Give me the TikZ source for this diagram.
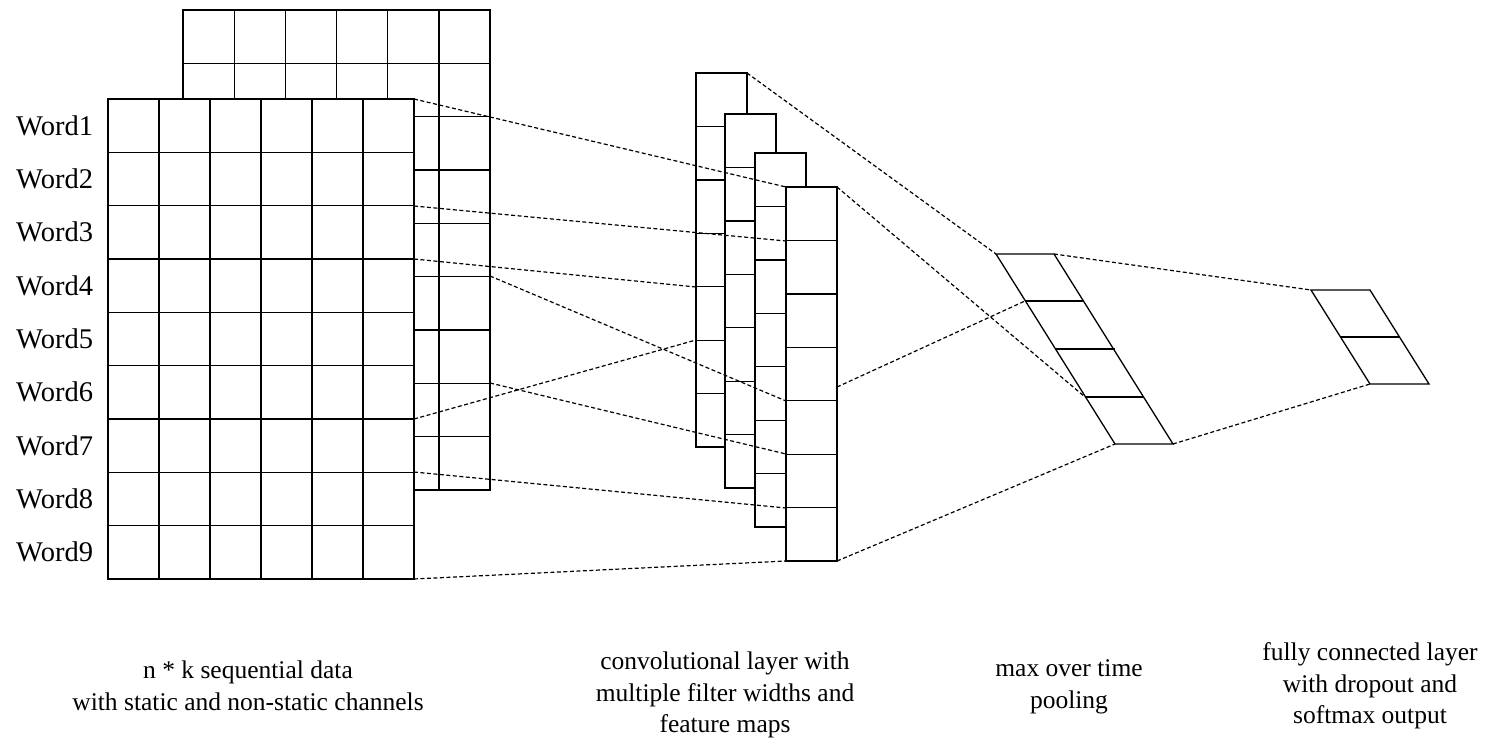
\documentclass[tikz,border=0pt]{standalone}
\usepackage{fontspec}
\setmainfont{Liberation Serif}
\begin{document}
\begin{tikzpicture}[x=1pt,y=-1pt,
  grid/.style={line width=1.3pt,fill=white},
  conn/.style={line width=1.2pt,dash pattern=on 4pt off 2.5pt},
  word/.style={anchor=west,font=\fontsize{28.5}{30}\selectfont,inner sep=0pt},
  lab/.style={align=center,font=\fontsize{25.5}{31.5}\selectfont,inner sep=0pt}]
\useasboundingbox (0,0) rectangle (1492,747);
% back input grid (static channel)
\filldraw[grid] (183,10) rectangle (490,490);
\foreach \i in {1,...,5} \draw[line width=1.3pt] ({183+51.2*\i},10) -- ({183+51.2*\i},490);
\foreach \j in {1,...,8} \draw[line width=1.3pt] (183,{10+53.33*\j}) -- (490,{10+53.33*\j});
% front input grid
\filldraw[grid] (108,99) rectangle (414,579);
\foreach \i in {1,...,5} \draw[line width=1.3pt] ({108+51*\i},99) -- ({108+51*\i},579);
\foreach \j in {1,...,8} \draw[line width=1.3pt] (108,{99+53.33*\j}) -- (414,{99+53.33*\j});
\foreach \j in {1,...,9} \node[word] (w\j) at (16,{99+53.33*\j-26.7}) {Word\j};
% feature maps
\foreach \m/\x/\y in {1/696/73,2/725/114,3/755/153,4/786/187}{
  \filldraw[grid] (\x,\y) rectangle ({\x+51},{\y+374});
  \foreach \j in {1,...,6} \draw[line width=1.3pt] (\x,{\y+53.43*\j}) -- ({\x+51},{\y+53.43*\j});
}
% pooling parallelogram
\draw[line width=1.3pt] (996,254) -- (1054,254) -- (1173,444) -- (1115,444) -- cycle;
\foreach \yy/\xa in {301/1025,349/1056,397/1085} \draw[line width=1.3pt] (\xa,\yy) -- ({\xa+59},\yy);
% fully connected
\draw[line width=1.3pt] (1311,290) -- (1370,290) -- (1429,384) -- (1370,384) -- cycle;
\draw[line width=1.3pt] (1340,337) -- (1399,337);
% named anchor points
\coordinate (i1) at (414,99);  \coordinate (i2) at (414,206);
\coordinate (i3) at (414,259); \coordinate (i4) at (490,276);
\coordinate (i5) at (414,419); \coordinate (i6) at (490,383);
\coordinate (i7) at (414,472); \coordinate (i8) at (414,579);
\coordinate (m1) at (786,187); \coordinate (m2) at (786,241);
\coordinate (m3) at (696,287); \coordinate (m4) at (786,401);
\coordinate (m5) at (696,340); \coordinate (m6) at (786,454);
\coordinate (m7) at (786,508); \coordinate (m8) at (786,561);
\coordinate (f1) at (747,73);  \coordinate (f2) at (837,187);
\coordinate (f3) at (837,387); \coordinate (f4) at (837,561);
\coordinate (p1) at (996,254); \coordinate (p2) at (1085,397);
\coordinate (p3) at (1025,301); \coordinate (p4) at (1115,444);
\coordinate (p5) at (1054,254); \coordinate (p6) at (1173,444);
\coordinate (o1) at (1311,290); \coordinate (o2) at (1370,384);
\foreach \a/\b in {i1/m1,i2/m2,i3/m3,i4/m4,i5/m5,i6/m6,i7/m7,i8/m8,f1/p1,f2/p2,f3/p3,f4/p4,p5/o1,p6/o2}
  \draw[conn] (\a) -- (\b);
% labels
\node[lab] (l1) at (248,686) {n * k sequential data\\with static and non-static channels};
\node[lab] (l2) at (725,695) {convolutional layer with\\multiple filter widths and\\feature maps};
\node[lab] (l3) at (1069,687) {max over time\\pooling};
\node[lab] (l4) at (1370,686) {fully connected layer\\with dropout and\\softmax output};
\end{tikzpicture}
\end{document}
